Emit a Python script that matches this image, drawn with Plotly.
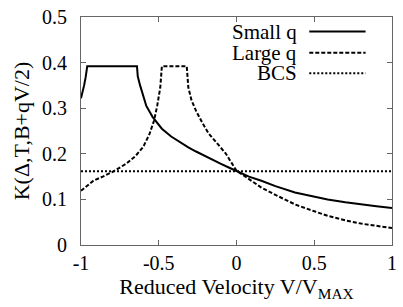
import plotly.graph_objects as go

# ---- data ----
small_x = [-1.0, -0.99, -0.98, -0.97, -0.96, -0.64, -0.635, -0.62, -0.605, -0.58, -0.54,
           -0.48, -0.42, -0.37, -0.31, -0.26, -0.21, -0.16, -0.10, -0.05, 0.0,
           0.08, 0.16, 0.25, 0.376, 0.5, 0.586, 0.7, 0.8, 0.9, 1.0]
small_y = [0.322, 0.335, 0.350, 0.368, 0.392, 0.392, 0.370, 0.350, 0.331, 0.305, 0.281,
           0.255, 0.238, 0.227, 0.214, 0.205, 0.196, 0.188, 0.178, 0.170, 0.162,
           0.150, 0.141, 0.129, 0.115, 0.106, 0.100, 0.094, 0.089, 0.085, 0.081]

large_x = [-1.0, -0.92, -0.86, -0.80, -0.71, -0.65, -0.60, -0.56, -0.53, -0.51, -0.49, -0.48,
           -0.32, -0.31, -0.29, -0.26, -0.22, -0.18, -0.12, -0.07, 0.0,
           0.08, 0.16, 0.25, 0.376, 0.5, 0.586, 0.7, 0.8, 0.9, 1.0]
large_y = [0.119, 0.141, 0.150, 0.160, 0.178, 0.195, 0.215, 0.243, 0.273, 0.305, 0.346, 0.392,
           0.392, 0.346, 0.318, 0.294, 0.268, 0.245, 0.221, 0.201, 0.163,
           0.145, 0.126, 0.110, 0.089, 0.074, 0.064, 0.054, 0.047, 0.042, 0.037]

bcs_x = [-1.0, 1.0]
bcs_y = [0.162, 0.162]

series_names = ["Small q", "Large q", "BCS"]

x_tickvals = [-1, -0.5, 0, 0.5, 1]
x_ticktext = ["-1", "-0.5", "0", "0.5", "1"]
y_tickvals = [0, 0.1, 0.2, 0.3, 0.4, 0.5]
y_ticktext = ["0", "0.1", "0.2", "0.3", "0.4", "0.5"]

FONT = "Liberation Serif"
dashes = ["solid", "4px,2px", "2px,2px"]

fig = go.Figure()
for xs, ys, name, d in [(small_x, small_y, series_names[0], dashes[0]),
                        (large_x, large_y, series_names[1], dashes[1]),
                        (bcs_x, bcs_y, series_names[2], dashes[2])]:
    fig.add_trace(go.Scatter(x=xs, y=ys, mode="lines", name=name,
                             line=dict(color="black", width=2, dash=d),
                             showlegend=False))

# manual gnuplot-style legend (text right-aligned, sample to the right)
leg_y = [0.936, 0.843, 0.753]
for name, d, yy in zip(series_names, dashes, leg_y):
    fig.add_annotation(x=0.70, y=yy, xref="paper", yref="paper", text=name,
                       showarrow=False, xanchor="right", yanchor="middle",
                       font=dict(family=FONT, size=21, color="black"))
    fig.add_shape(type="line", xref="paper", yref="paper", x0=0.734, x1=0.915,
                  y0=yy, y1=yy, line=dict(color="black", width=2, dash=d))

axis_common = dict(showgrid=False, zeroline=False, showline=True, linecolor="#666",
                   linewidth=1, mirror="ticks", ticks="inside", ticklen=5,
                   tickcolor="#666", tickfont=dict(family=FONT, size=20, color="black"))

fig.update_xaxes(range=[-1, 1], tickvals=x_tickvals, ticktext=x_ticktext,
                 title=dict(text="Reduced Velocity V/V<sub>MAX</sub>",
                            font=dict(family=FONT, size=22, color="black"), standoff=4),
                 **axis_common)
fig.update_yaxes(range=[0, 0.5], tickvals=y_tickvals, ticktext=y_ticktext,
                 ticklabelstandoff=9,
                 title=dict(text="K(Δ,T,B+qV/2)",
                            font=dict(family=FONT, size=22, color="black"), standoff=6),
                 **axis_common)

fig.update_layout(width=403, height=307, margin=dict(l=81, r=6, t=12, b=62),
                  font=dict(family=FONT),
                  plot_bgcolor="white", paper_bgcolor="white")

post = ("document.body.style.margin='0px';"
        "var gd=document.getElementById('{plot_id}');"
        "function rr(){Plotly.newPlot(gd, gd.data, gd.layout, {displayModeBar:false});}"
        "if(document.fonts){document.fonts.load('20px \"Liberation Serif\"').then(rr);"
        "document.fonts.ready.then(rr);}")
fig.write_html("out.html", config={"displayModeBar": False}, post_script=post)
